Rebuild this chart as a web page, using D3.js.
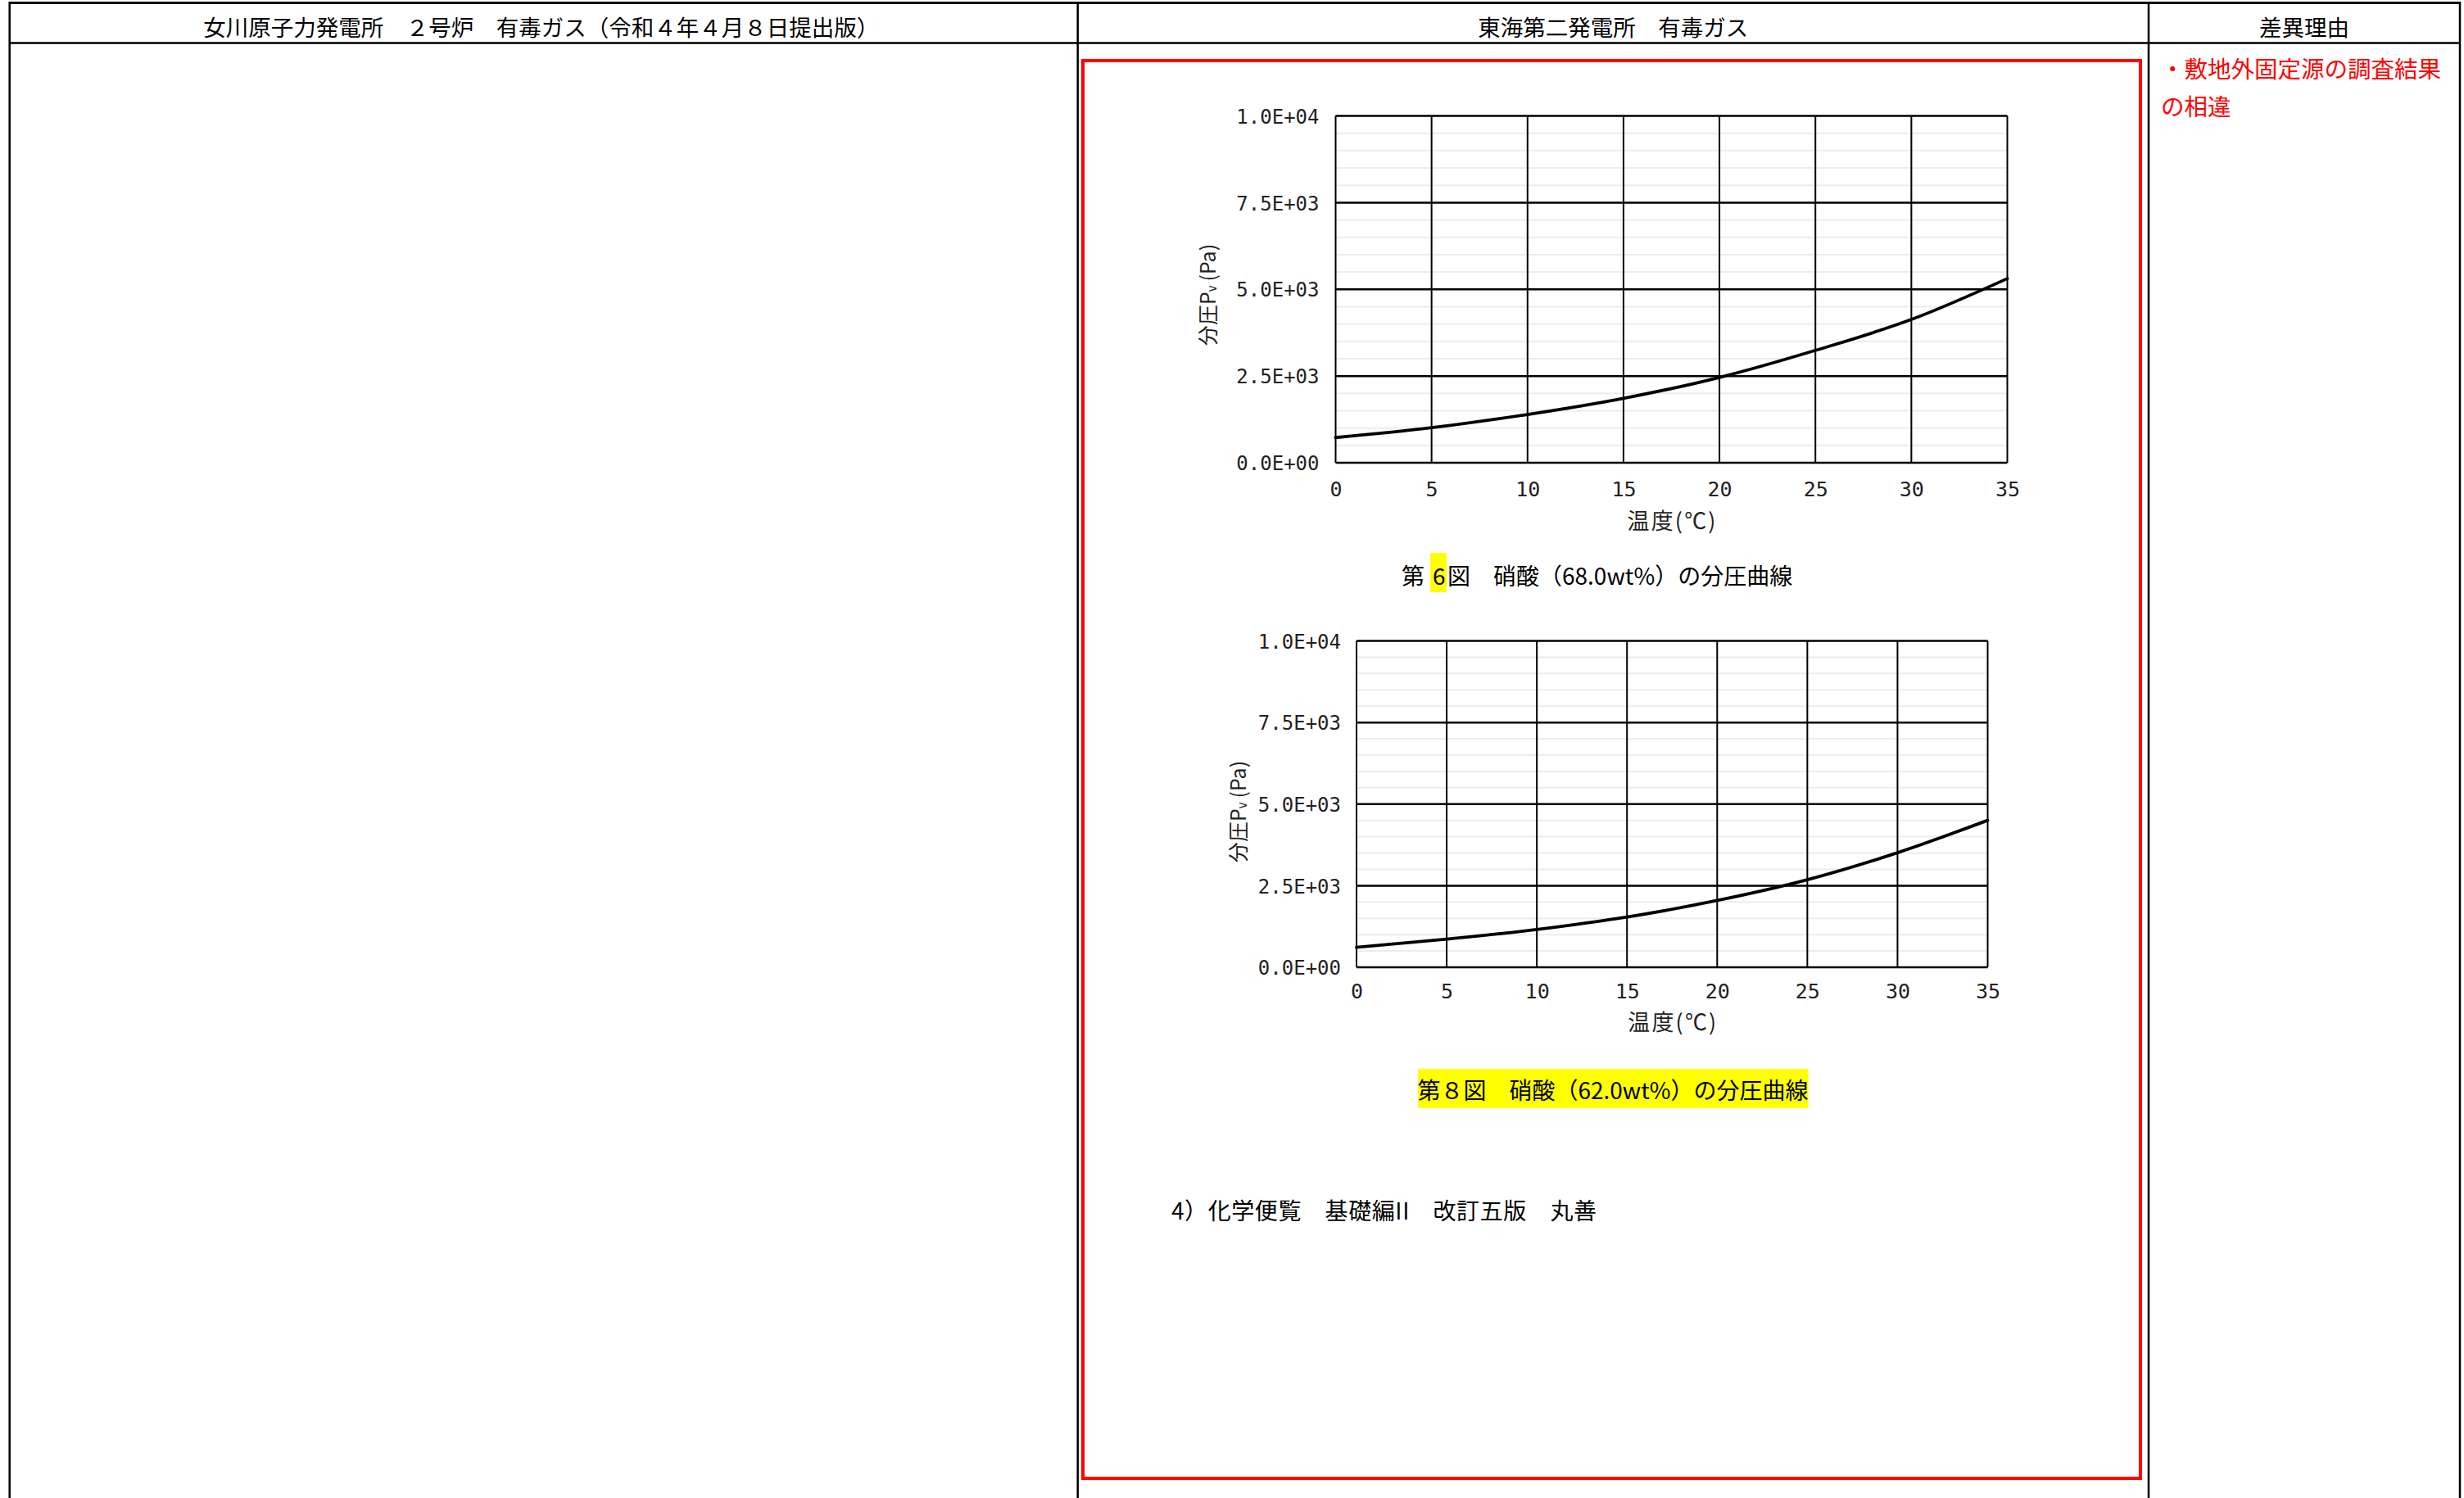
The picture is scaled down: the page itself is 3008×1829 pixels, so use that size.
<!DOCTYPE html>
<html>
<head>
<meta charset="utf-8">
<script src="https://cdn.jsdelivr.net/npm/d3@7"></script>
<style>
  html, body { margin: 0; padding: 0; background: #ffffff; }
  svg { display: block; }
</style>
</head>
<body>
<svg id="page" width="3008" height="1829"></svg>
<script>
// ---------------- data ----------------
const temperatures = [0, 5, 10, 15, 20, 25, 30, 35];           // 温度 (℃)
const pv68 = [726, 1013, 1392, 1857, 2460, 3240, 4130, 5310];   // 硝酸 68.0wt% 分圧 (Pa)
const pv62 = [609, 863, 1159, 1540, 2047, 2682, 3511, 4501];    // 硝酸 62.0wt% 分圧 (Pa)
const xTicks = [0, 5, 10, 15, 20, 25, 30, 35];
const yTicks = [0, 2500, 5000, 7500, 10000];
const yTickLabels = ["0.0E+00", "2.5E+03", "5.0E+03", "7.5E+03", "1.0E+04"];
const yMinorTicks = [500, 1000, 1500, 2000, 3000, 3500, 4000, 4500, 5500, 6000, 6500, 7000, 8000, 8500, 9000, 9500];
const headerTexts = ["女川原子力発電所　２号炉　有毒ガス（令和４年４月８日提出版）", "東海第二発電所　有毒ガス", "差異理由"];
const reasonLines = ["・敷地外固定源の調査結果", "の相違"];
const caption6Parts = ["第", "6", "図　硝酸（68.0wt%）の分圧曲線"];
const caption8 = "第８図　硝酸（62.0wt%）の分圧曲線";
const referenceText = "4）化学便覧　基礎編II　改訂五版　丸善";

// ---------------- page ----------------
const svg = d3.select("#page");
const JP = "'Noto Sans CJK JP', 'Noto Sans', sans-serif";
const MONO = "'DejaVu Sans Mono', 'Liberation Mono', monospace";

// table frame
const colL = 11.7, colM = 1315.7, colR = 2623, colE = 3003;
const rowT = 3.5, rowH = 52.5;
const frame = svg.append("g").attr("stroke", "#000").attr("fill", "none");
frame.append("line").attr("x1", colL).attr("x2", colE).attr("y1", rowT).attr("y2", rowT).attr("stroke-width", 3);
frame.append("line").attr("x1", colL).attr("x2", colE).attr("y1", rowH).attr("y2", rowH).attr("stroke-width", 2.5);
[colL, colM, colR, colE].forEach(x => {
  frame.append("line").attr("x1", x).attr("x2", x).attr("y1", rowT - 1.5).attr("y2", 1829).attr("stroke-width", 2.5);
});

// header texts
const headerCenters = [(colL + colM) / 2 - 3, (colM + colR) / 2, (colR + colE) / 2];
headerTexts.forEach((t, i) => {
  svg.append("text").attr("x", headerCenters[i]).attr("y", 32)
    .attr("text-anchor", "middle").attr("dominant-baseline", "central")
    .attr("font-family", JP).attr("font-size", 27.5).attr("fill", "#000").text(t);
});

// reason (red) text
reasonLines.forEach((t, i) => {
  svg.append("text").attr("x", 2638).attr("y", 82 + i * 46)
    .attr("dominant-baseline", "central")
    .attr("font-family", JP).attr("font-size", 28.5).attr("fill", "#ff0000").text(t);
});

// red box
svg.append("rect").attr("x", 1322).attr("y", 74).attr("width", 2613 - 1322).attr("height", 1805 - 74)
  .attr("fill", "none").attr("stroke", "#ff0000").attr("stroke-width", 4);

// ---------------- charts ----------------
function drawChart(box, values) {
  const g = svg.append("g");
  const x = d3.scaleLinear().domain([0, 35]).range([box.left, box.right]);
  const y = d3.scaleLinear().domain([0, 10000]).range([box.bottom, box.top]);

  // minor horizontal grid
  g.append("g").selectAll("line").data(yMinorTicks).join("line")
    .attr("x1", box.left).attr("x2", box.right)
    .attr("y1", d => y(d)).attr("y2", d => y(d))
    .attr("stroke", "#ececec").attr("stroke-width", 2);

  // major vertical grid
  g.append("g").selectAll("line").data(xTicks).join("line")
    .attr("x1", d => x(d)).attr("x2", d => x(d))
    .attr("y1", box.top).attr("y2", box.bottom)
    .attr("stroke", "#000").attr("stroke-width", 2);

  // major horizontal grid
  g.append("g").selectAll("line").data(yTicks).join("line")
    .attr("x1", box.left).attr("x2", box.right)
    .attr("y1", d => y(d)).attr("y2", d => y(d))
    .attr("stroke", "#000").attr("stroke-width", 2.5);

  // curve
  const line = d3.line().x((d, i) => x(temperatures[i])).y(d => y(d)).curve(d3.curveMonotoneX);
  g.append("path").datum(values).attr("d", line)
    .attr("fill", "none").attr("stroke", "#000").attr("stroke-width", 3.8)
    .attr("stroke-linejoin", "round").attr("stroke-linecap", "round");

  // axes (labels only)
  const yAxis = d3.axisLeft(y).tickValues(yTicks).tickSize(0).tickPadding(box.yPad)
    .tickFormat((d, i) => yTickLabels[i]);
  const ya = g.append("g").attr("transform", `translate(${box.left},0)`).call(yAxis);
  ya.select(".domain").remove();
  ya.selectAll("text").attr("font-family", MONO).attr("font-size", 24).attr("fill", "#222")
    .attr("dy", "0.36em");

  const xAxis = d3.axisBottom(x).tickValues(xTicks).tickSize(0).tickPadding(0).tickFormat(d3.format("d"));
  const xa = g.append("g").attr("transform", `translate(0,${box.bottom})`).call(xAxis);
  xa.select(".domain").remove();
  xa.selectAll("text").attr("font-family", MONO).attr("font-size", 25).attr("fill", "#222")
    .attr("y", box.xLabelOffset).attr("dy", "0.36em");

  // axis titles
  g.append("text").attr("x", (box.left + box.right) / 2).attr("y", box.bottom + box.xTitleOffset)
    .attr("text-anchor", "middle").attr("dominant-baseline", "central")
    .attr("font-family", JP).attr("font-size", 27).attr("fill", "#222")
    .attr("textLength", 108).attr("lengthAdjust", "spacing").text("温度(℃)");

  const yt = g.append("text")
    .attr("transform", `translate(${box.yTitleX},${box.yTitleY}) rotate(-90)`)
    .attr("text-anchor", "middle").attr("dominant-baseline", "central")
    .attr("font-family", JP).attr("font-size", 25).attr("fill", "#222");
  yt.append("tspan").text("分圧P");
  yt.append("tspan").attr("font-size", 15).attr("dy", 5).text("v");
  yt.append("tspan").attr("dy", -5).attr("dx", 5).text("(Pa)");
  return g;
}

drawChart({left: 1630.5, right: 2450.5, top: 141.5, bottom: 565, yPad: 20,
           xLabelOffset: 32, xTitleOffset: 69, yTitleX: 1473, yTitleY: 360}, pv68);
drawChart({left: 1656, right: 2426.5, top: 782.5, bottom: 1181, yPad: 19,
           xLabelOffset: 29, xTitleOffset: 65, yTitleX: 1510, yTitleY: 991}, pv62);

// ---------------- captions ----------------
// caption 6 : only "6" highlighted
(function () {
  const y0 = 702;
  let cx = 1711;
  const g = svg.append("g");
  const hl = g.append("rect").attr("fill", "#ffff00");
  caption6Parts.forEach((t, i) => {
    const tx = g.append("text").attr("x", cx).attr("y", y0).attr("dominant-baseline", "central")
      .attr("font-family", JP).attr("font-size", 28).attr("fill", "#000").text(t);
    const w = tx.node().getComputedTextLength();
    if (i === 1) {
      tx.attr("x", 1749);
      hl.attr("x", 1746).attr("y", 675).attr("width", 20).attr("height", 48);
      cx = 1767;
    } else {
      cx = cx + w;
    }
  });
})();

// caption 8 : whole caption highlighted
svg.append("rect").attr("x", 1731).attr("y", 1305).attr("width", 2207.5 - 1731).attr("height", 1353 - 1305)
  .attr("fill", "#ffff00");
svg.append("text").attr("x", 1969).attr("y", 1330).attr("text-anchor", "middle").attr("dominant-baseline", "central")
  .attr("font-family", JP).attr("font-size", 28).attr("fill", "#000").text(caption8);

// reference
svg.append("text").attr("x", 1430).attr("y", 1477).attr("dominant-baseline", "central")
  .attr("font-family", JP).attr("font-size", 28).attr("fill", "#000")
  .attr("textLength", 519).attr("lengthAdjust", "spacing").text(referenceText);
</script>
</body>
</html>
